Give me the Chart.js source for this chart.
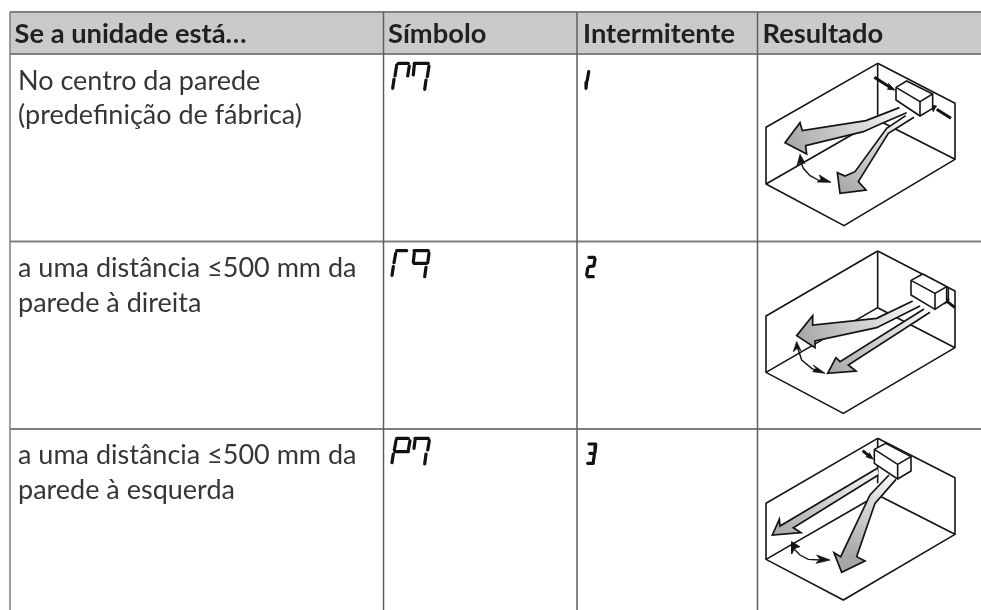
<!DOCTYPE html>
<html>
<head>
<meta charset="utf-8">
<style>html,body{margin:0;background:#fff}canvas{display:block}</style>
<script src="https://cdn.jsdelivr.net/npm/chart.js@4"></script>
</head>
<body>
<canvas id="table" width="981" height="610"></canvas>
<script>
const headers = ['Se a unidade está…', 'Símbolo', 'Intermitente', 'Resultado'];
const rowLines = [
  ['No centro da parede', '(predefinição de fábrica)'],
  ['a uma distância ≤500 mm da', 'parede à direita'],
  ['a uma distância ≤500 mm da', 'parede à esquerda']
];
const headerX = [14.5, 388, 583, 762.5];
const rowBaselines = [[89.5, 123.5], [276.5, 311.5], [463.5, 498.5]];

const columnX = [10, 383.5, 577, 757.5];
const rowY = [12, 54, 241.5, 429];

// seven segment glyphs, x0,y0,x1,y1 per segment, reference pixels
const symbolM7 = [
  [396.7,65,395,76],[394,79.3,392.7,88.3],[398.3,63.3,408.3,63.3],[409.3,66,407.7,76],
  [414.3,63.3,428.3,63.3],[414.3,65,413.3,75],[429,66,427.3,76.7],[426,80,424.7,89.3]
];
const symbolR9 = [
  [396.7,250.7,406.7,250.7],[395.7,253.3,394,262.7],[393.3,266.7,392,275.3],
  [414,250.7,428.3,250.7],[414.3,253.3,413.3,261.7],[414,263.3,426.7,263.3],[429,253.3,427.7,262.7],[426,267.3,424.7,276.7]
];
const symbolP7 = [
  [396.7,438.3,408.3,438.3],[396,440.7,394.3,450],[395,451.7,408.3,451.7],[410,440.7,408.3,450],[393.3,454,392,462.7],
  [415,438.3,428.3,438.3],[415,440.7,414,448.3],[429.3,440.7,427.7,450],[426,454,424.7,464]
];
const blink1 = [[588.7,71.7,587.3,80],[586.7,81.7,586,88.3]];
const blink2 = [[589,257.3,594.3,257.3],[595,259,594,265],[589,266.7,593.7,266],[587.7,268.3,586.7,275],[587.7,276.7,593.3,276.7]];
const blink3 = [[589,444,595.7,444],[595.7,445.7,595,452.3],[590,453.3,594.3,453.3],[594.3,455,593.3,461.7],[587.7,463.3,593.3,463.3]];

// diagrams: crop units (3 per reference pixel) from each diagram's origin
const origin1 = [740, 0];
const room1 = [[413,190,78,382,78,552,312,677,645,478,645,310,413,190],[413,190,413,345],[78,552,413,360,645,478]];
const box1 = [468,262,500,243,578,282,578,325,540,348,468,300,468,262];
const boxEdges1 = [[468,262,540,305,578,282],[540,305,540,348]];
const flowA1 = [478,323,378,362,187,392,180,368,135,428,200,462,197,437,370,395,430,368,500,338];
const flowB1 = [497,347,440,385,345,515,315,528,292,518,300,580,378,570,355,545,445,400,522,352];
const swing1 = [180,480,190,505,210,527,240,543];
const heads1 = [[180,463,171,497,181,487,195,490],[273,547,238,525,243,537,232,546],[465,270,445,250,450,260,442,268],[572,315,590,318,585,325,580,335]];
const gaps1 = [[403,232,450,262],[633,355,590,328]];

const origin2 = [740, 205];
const room2 = [[413,138,78,333,78,502,310,625,645,428,645,258,413,138],[413,138,413,308],[78,502,413,308,645,428]];
const box2 = [513,226,548,207,620,245,620,290,585,313,513,270,513,226];
const boxEdges2 = [[513,226,585,265,620,245],[585,265,585,313],[625,248,625,295]];
const flowA2 = [518,288,410,340,218,360,218,332,170,392,225,428,225,408,410,368,540,303];
const flowB2 = [552,312,300,470,288,458,263,505,348,498,325,480,570,322];
const swing2 = [172,425,185,465,215,490,235,500];
const heads2 = [[170,410,160,440,172,430,183,437],[255,505,220,480,228,490,218,500],[610,280,628,282,622,290,615,298]];
const gaps2 = [[645,308,618,287]];

const origin3 = [740, 400];
const room3 = [[413,115,78,310,78,478,310,600,645,403,645,233,413,115],[413,115,413,250],[78,478,413,285,645,403]];
const box3 = [403,148,437,130,513,170,513,213,473,237,403,190,403,148];
const boxEdges3 = [[403,148,473,193,513,170],[473,193,473,237]];
const flowA3 = [412,205,120,378,118,358,97,405,183,398,160,383,415,225];
const flowB3 = [447,225,390,285,302,470,282,458,305,517,375,483,350,470,405,310,468,238];
const swing3 = [160,445,180,465,205,478,240,480];
const heads3 = [[155,425,155,462,165,445,180,440],[270,480,230,465,240,478,228,490],[400,178,378,170,385,165,388,158]];
const gaps3 = [[368,152,392,172]];

const gridColor = '#7f7f7f';
const inkColor = '#141414';

function toPoints(flat, origin) {
  const pts = [];
  for (let i = 0; i < flat.length; i += 2) {
    pts.push(origin ? { x: origin[0] + flat[i] / 3, y: origin[1] + flat[i + 1] / 3 } : { x: flat[i], y: flat[i + 1] });
  }
  return pts;
}

const painted = [];
function addLine(points, color, width, extra) {
  painted.push(Object.assign({
    data: points,
    showLine: true,
    borderColor: color,
    borderWidth: width,
    pointRadius: 0,
    fill: false,
    tension: 0
  }, extra));
}

// header band and table rules
addLine(toPoints([columnX[0], rowY[0], 981, rowY[0], 981, rowY[1], columnX[0], rowY[1]]), 'rgba(0,0,0,0)', 0, { fill: 'shape', backgroundColor: '#c8cacc' });
rowY.forEach(y => addLine(toPoints([columnX[0], y, 981, y]), gridColor, 1.8));
columnX.forEach(x => addLine(toPoints([x, rowY[0], x, 610]), x === columnX[0] ? gridColor : '#5f5f5f', 1.5));

// seven segment texts
[symbolM7, symbolR9, symbolP7, blink1, blink2, blink3].forEach(glyph => {
  glyph.forEach(seg => addLine(toPoints(seg), '#111', 3.2, { borderCapStyle: 'round' }));
});

function arrowFill(flat, origin, tipIndex) {
  return ctx => {
    const { x, y } = ctx.chart.scales;
    const a = toPoints(flat, origin);
    const x0 = x.getPixelForValue(a[0].x), y0 = y.getPixelForValue(a[0].y);
    const x1 = x.getPixelForValue(a[tipIndex].x), y1 = y.getPixelForValue(a[tipIndex].y);
    // scales are not laid out yet on the first resolve
    if (![x0, y0, x1, y1].every(Number.isFinite)) return '#c4c4c4';
    const g = ctx.chart.ctx.createLinearGradient(x0, y0, x1, y1);
    g.addColorStop(0, '#f6f6f6');
    g.addColorStop(1, '#a6a6a6');
    return g;
  };
}

function addDiagram(origin, room, box, boxEdges, flowA, tipA, flowB, tipB, swing, heads, gaps) {
  room.forEach(r => addLine(toPoints(r, origin), inkColor, 1.6));
  [[flowA, tipA], [flowB, tipB]].forEach(f => {
    addLine(toPoints(f[0], origin), inkColor, 1.7, { fill: 'shape', backgroundColor: arrowFill(f[0], origin, f[1]) });
  });
  addLine(toPoints(swing, origin), inkColor, 1.4);
  heads.forEach(h => addLine(toPoints(h.concat(h.slice(0, 2)), origin), inkColor, 0.8, { fill: 'shape', backgroundColor: inkColor }));
  gaps.forEach(g => addLine(toPoints(g, origin), inkColor, 3));
  addLine(toPoints(box, origin), inkColor, 1.6, { fill: 'shape', backgroundColor: '#fff' });
  boxEdges.forEach(e => addLine(toPoints(e, origin), inkColor, 1.6));
}
addDiagram(origin1, room1, box1, boxEdges1, flowA1, 4, flowB1, 5, swing1, heads1, gaps1);
addDiagram(origin2, room2, box2, boxEdges2, flowA2, 4, flowB2, 3, swing2, heads2, gaps2);
addDiagram(origin3, room3, box3, boxEdges3, flowA3, 3, flowB3, 5, swing3, heads3, gaps3);

const tableText = {
  id: 'tableText',
  afterDatasetsDraw(chart) {
    const { ctx, scales: { x, y } } = chart;
    ctx.save();
    ctx.textBaseline = 'alphabetic';
    ctx.fillStyle = '#1f2021';
    ctx.font = 'bold 27.3px Lato';
    headers.forEach((h, i) => ctx.fillText(h, x.getPixelForValue(headerX[i]), y.getPixelForValue(42.5)));
    ctx.fillStyle = '#363636';
    ctx.font = '27px Lato';
    rowLines.forEach((lines, r) => lines.forEach((t, i) => {
      ctx.fillText(t, x.getPixelForValue(18), y.getPixelForValue(rowBaselines[r][i]));
    }));
    ctx.restore();
  }
};

new Chart(document.getElementById('table'), {
  type: 'scatter',
  // chart.js paints the first dataset last
  data: { datasets: painted.slice().reverse() },
  options: {
    responsive: false,
    animation: false,
    layout: { padding: 0 },
    plugins: { legend: { display: false }, tooltip: { enabled: false } },
    scales: {
      x: { type: 'linear', min: 0, max: 981, display: false },
      y: { type: 'linear', min: 0, max: 610, reverse: true, display: false }
    }
  },
  plugins: [tableText]
});
</script>
</body>
</html>
